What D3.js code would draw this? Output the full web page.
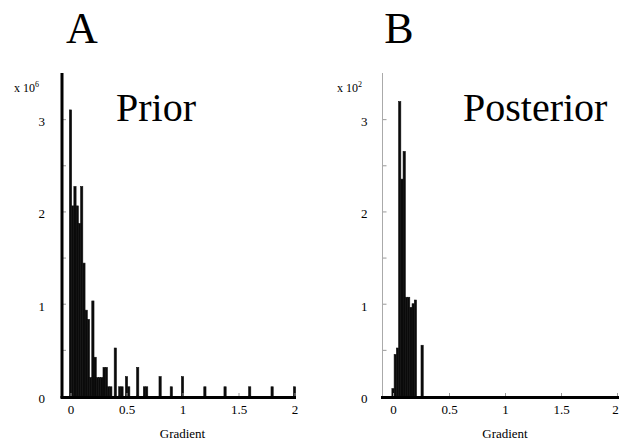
<!DOCTYPE html>
<html>
<head>
<meta charset="UTF-8">
<title>Prior / Posterior gradient histograms</title>
<script src="https://cdn.jsdelivr.net/npm/d3@7"></script>
<style>
  body { margin: 0; background: #fff; }
  text { font-family: "Liberation Serif", "Times New Roman", serif; fill: #000; }
</style>
</head>
<body>
<script>
// bin width of both histograms (gradient units)
var binWidth = 0.02;

// Prior histogram: bin centre (gradient) and count (x 10^6)
var priorGradient = [0, 0.02, 0.04, 0.06, 0.08, 0.10, 0.12, 0.14, 0.16, 0.18, 0.20, 0.22, 0.24, 0.26, 0.28,
                     0.30, 0.32, 0.34, 0.36, 0.40, 0.44, 0.46, 0.50, 0.52, 0.60, 0.66, 0.68, 0.80, 0.90,
                     1.00, 1.20, 1.38, 1.60, 1.80, 2.00];
var priorCount    = [3.10, 2.06, 2.27, 2.06, 1.87, 2.27, 1.44, 0.93, 0.83, 0.20, 1.03, 0.42, 0.20, 0.20, 0.20,
                     0.31, 0.31, 0.10, 0.10, 0.52, 0.10, 0.10, 0.21, 0.10, 0.31, 0.10, 0.10, 0.21, 0.10,
                     0.21, 0.10, 0.10, 0.10, 0.10, 0.10];

// Posterior histogram: bin centre (gradient) and count (x 10^2)
var posteriorGradient = [0, 0.02, 0.04, 0.06, 0.08, 0.10, 0.12, 0.14, 0.16, 0.18, 0.20, 0.26];
var posteriorCount    = [0.08, 0.45, 0.52, 3.19, 2.35, 2.65, 1.07, 1.07, 0.96, 1.00, 1.04, 0.55];

var xTicks = [0, 0.5, 1, 1.5, 2];
var yTicks = [0, 0.5, 1, 1.5, 2, 2.5, 3];

var width = 619, height = 448;
var svg = d3.select("body").append("svg").attr("width", width).attr("height", height);

var y = d3.scaleLinear().domain([0, 3.5]).range([396, 73]);

function drawPanel(p) {
    var x = d3.scaleLinear().domain([0, 2]).range([p.x0, p.x0 + 224]);
    var g = svg.append("g");

    // bars (touching, like the original solid blocks)
    var data = p.gradient.map(function(v, i) { return { g: v, c: p.count[i] }; });
    g.selectAll(".bar")
        .data(data)
        .enter()
        .append("rect")
        .attr("class", "bar")
        .attr("x", function(d) { return x(d.g - binWidth / 2); })
        .attr("width", function(d) { return x(binWidth) - x(0); })
        .attr("y", function(d) { return y(d.c); })
        .attr("height", function(d) { return y(0) - y(d.c); })
        .attr("fill", "#0a0a0a")
        .attr("stroke", "#111")
        .attr("stroke-width", 0.6);

    // y axis: ticks point inward, labels only on integers
    var yAxis = d3.axisLeft(y)
        .tickValues(yTicks)
        .tickSizeInner(-4)
        .tickSizeOuter(0)
        .tickPadding(p.yPad)
        .tickFormat(function(d) { return d % 1 === 0 ? d : ""; });
    var ya = g.append("g").attr("transform", "translate(" + p.axisX + ",0)").call(yAxis);
    ya.select(".domain").remove();
    ya.selectAll(".tick line").attr("stroke", "#999");
    ya.selectAll("text").style("font-size", "13px").attr("fill", "#000").attr("dy", "0.5em");

    g.append("line")
        .attr("x1", p.axisX).attr("x2", p.axisX)
        .attr("y1", 73).attr("y2", 398)
        .attr("stroke", p.thickY ? "#000" : "#aaa")
        .attr("stroke-width", p.thickY ? 3 : 1);

    // x axis
    var xAxis = d3.axisBottom(x)
        .tickValues(xTicks)
        .tickSizeInner(-3)
        .tickSizeOuter(0)
        .tickPadding(9)
        .tickFormat(function(d) { return String(d); });
    var xa = g.append("g").attr("transform", "translate(0,396)").call(xAxis);
    xa.select(".domain").remove();
    xa.selectAll(".tick line").attr("stroke", "#999");
    xa.selectAll("text").style("font-size", "13px").attr("fill", "#000");
    if (p.lastShift) {
        xa.selectAll("text").filter(function(d) { return d === 2; }).attr("x", p.lastShift);
    }

    g.append("line")
        .attr("x1", p.axisX - 1.5).attr("x2", p.lineEnd)
        .attr("y1", 397.5).attr("y2", 397.5)
        .attr("stroke", "#000")
        .attr("stroke-width", 3);

    g.append("text")
        .attr("x", x(1)).attr("y", 438)
        .attr("text-anchor", "middle")
        .style("font-size", "13px")
        .text("Gradient");

    // multiplier
    var m = g.append("text")
        .attr("x", p.multX).attr("y", 92)
        .attr("fill", "#000")
        .style("font-size", "12px");
    m.append("tspan").text("x 10");
    m.append("tspan").attr("dy", -5).style("font-size", "8px").text(p.exp);

    // panel letter and title
    g.append("text")
        .attr("x", p.letterX).attr("y", 43)
        .attr("text-anchor", "middle")
        .style("font-size", "44px")
        .text(p.letter);
    g.append("text")
        .attr("x", p.titleX).attr("y", 121)
        .style("font-size", "40px")
        .text(p.title);
}

drawPanel({ x0: 70.5, axisX: 62, yPad: 17, thickY: true, lineEnd: 296,
            gradient: priorGradient, count: priorCount,
            multX: 14, exp: "6", letter: "A", letterX: 82, title: "Prior", titleX: 116 });
drawPanel({ x0: 393, axisX: 382.5, yPad: 15, thickY: false, lineEnd: 619, lastShift: -2,
            gradient: posteriorGradient, count: posteriorCount,
            multX: 337, exp: "2", letter: "B", letterX: 399, title: "Posterior", titleX: 463 });
</script>
</body>
</html>
